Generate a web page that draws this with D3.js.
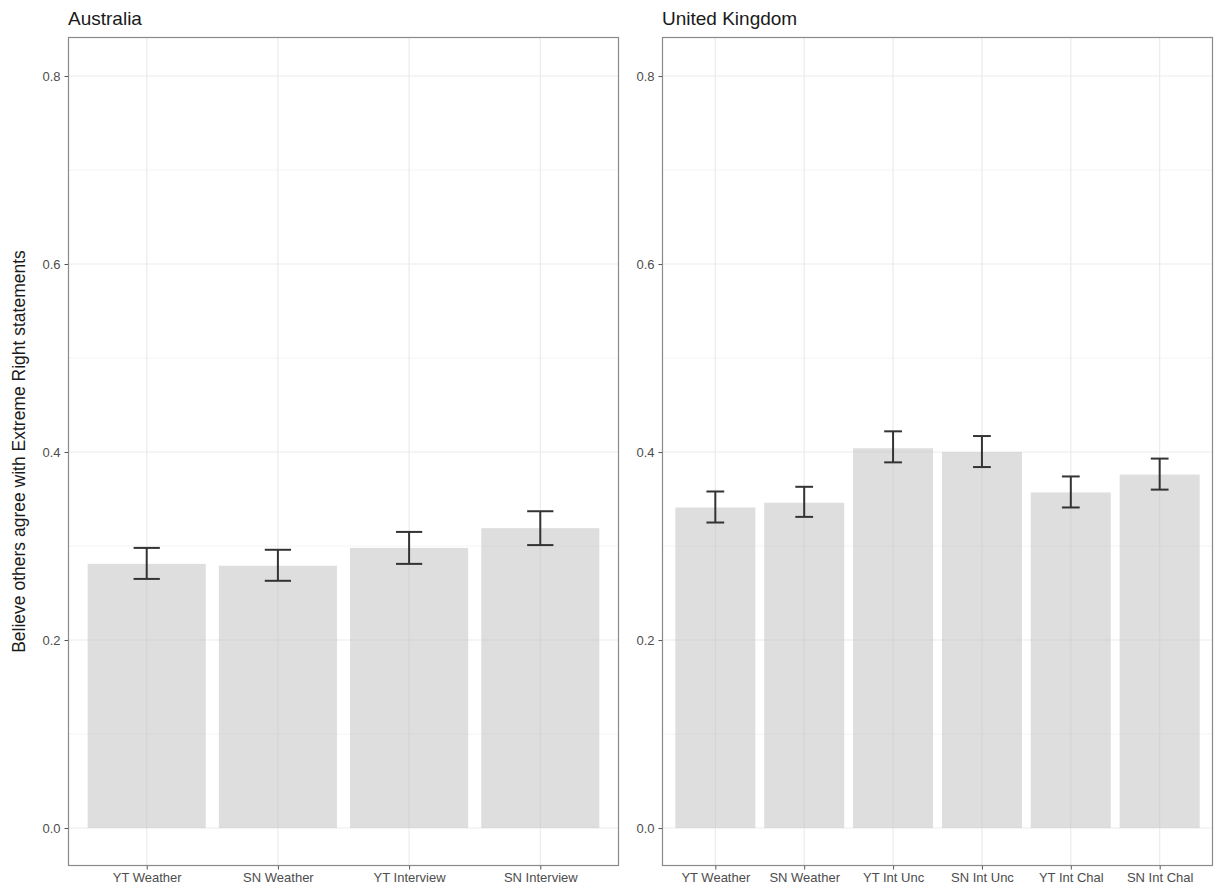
<!DOCTYPE html>
<html>
<head>
<meta charset="utf-8">
<script src="https://cdn.jsdelivr.net/npm/d3@7"></script>
<style>
  html, body { margin: 0; padding: 0; background: #fff; }
  svg { display: block; font-family: "Liberation Sans", Arial, sans-serif; }
</style>
</head>
<body>
<svg id="chart" width="1215" height="890"></svg>
<script>
// Mean belief that others agree with extreme-right statements, by condition
const ausCategories = ["YT Weather", "SN Weather", "YT Interview", "SN Interview"];
const ausMeans = [0.281, 0.279, 0.298, 0.319];
const ausLower = [0.265, 0.263, 0.281, 0.301];
const ausUpper = [0.298, 0.296, 0.315, 0.337];

const ukCategories = ["YT Weather", "SN Weather", "YT Int Unc", "SN Int Unc", "YT Int Chal", "SN Int Chal"];
const ukMeans = [0.341, 0.346, 0.404, 0.400, 0.357, 0.376];
const ukLower = [0.325, 0.331, 0.389, 0.384, 0.341, 0.360];
const ukUpper = [0.358, 0.363, 0.422, 0.417, 0.374, 0.393];

const yTicks = [0, 0.2, 0.4, 0.6, 0.8];
const yMinor = [0.1, 0.3, 0.5, 0.7];
const panelTitles = ["Australia", "United Kingdom"];
const yLabel = "Believe others agree with Extreme Right statements";

const svg = d3.select("#chart");
const panelTop = 37, panelBottom = 866;

// Shared y scale across both facets
const y = d3.scaleLinear().domain([-0.0404, 0.8415]).range([panelBottom, panelTop]);

const panels = [
  { title: panelTitles[0], cats: ausCategories, mean: ausMeans, lo: ausLower, hi: ausUpper, x0: 68, x1: 619 },
  { title: panelTitles[1], cats: ukCategories, mean: ukMeans, lo: ukLower, hi: ukUpper, x0: 662, x1: 1213 }
];

panels.forEach(p => {
  const n = p.cats.length;
  // discrete axis with 0.6 unit padding on each side, bars 0.9 wide
  const pos = d3.scaleLinear().domain([0.4, n + 0.6]).range([p.x0, p.x1]);
  const unit = pos(1) - pos(0);
  const g = svg.append("g");

  g.append("rect").attr("x", p.x0).attr("y", panelTop)
    .attr("width", p.x1 - p.x0).attr("height", panelBottom - panelTop).attr("fill", "#fff");

  // minor gridlines
  g.selectAll(".ymin").data(yMinor).join("line")
    .attr("x1", p.x0).attr("x2", p.x1)
    .attr("y1", d => y(d)).attr("y2", d => y(d))
    .attr("stroke", "#f4f4f4").attr("stroke-width", 1);
  // major gridlines
  g.selectAll(".ymaj").data(yTicks).join("line")
    .attr("x1", p.x0).attr("x2", p.x1)
    .attr("y1", d => y(d)).attr("y2", d => y(d))
    .attr("stroke", "#ebebeb").attr("stroke-width", 1.2);
  g.selectAll(".xmaj").data(p.cats).join("line")
    .attr("x1", (d, i) => pos(i + 1)).attr("x2", (d, i) => pos(i + 1))
    .attr("y1", panelTop).attr("y2", panelBottom)
    .attr("stroke", "#ebebeb").attr("stroke-width", 1.2);

  // bars
  g.selectAll(".bar").data(p.mean).join("rect")
    .attr("x", (d, i) => pos(i + 1) - 0.45 * unit)
    .attr("width", 0.9 * unit)
    .attr("y", d => y(d))
    .attr("height", d => y(0) - y(d))
    .attr("fill", "#bdbdbd").attr("fill-opacity", 0.5);

  // error bars
  const eb = g.selectAll(".eb").data(p.mean).join("g")
    .attr("stroke", "#333").attr("stroke-width", 2).attr("fill", "none");
  eb.append("line")
    .attr("x1", (d, i) => pos(i + 1)).attr("x2", (d, i) => pos(i + 1))
    .attr("y1", (d, i) => y(p.lo[i])).attr("y2", (d, i) => y(p.hi[i]));
  eb.append("line")
    .attr("x1", (d, i) => pos(i + 1) - 0.1 * unit).attr("x2", (d, i) => pos(i + 1) + 0.1 * unit)
    .attr("y1", (d, i) => y(p.hi[i])).attr("y2", (d, i) => y(p.hi[i]));
  eb.append("line")
    .attr("x1", (d, i) => pos(i + 1) - 0.1 * unit).attr("x2", (d, i) => pos(i + 1) + 0.1 * unit)
    .attr("y1", (d, i) => y(p.lo[i])).attr("y2", (d, i) => y(p.lo[i]));

  // panel border
  g.append("rect").attr("x", p.x0 + 0.5).attr("y", panelTop + 0.5)
    .attr("width", p.x1 - p.x0 - 1).attr("height", panelBottom - panelTop - 1)
    .attr("fill", "none").attr("stroke", "#8a8a8a").attr("stroke-width", 1.2);

  // y axis
  const yAxis = d3.axisLeft(y).tickValues(yTicks).tickFormat(d3.format(".1f")).tickSize(3.5).tickPadding(4);
  const ya = g.append("g").attr("transform", `translate(${p.x0},0)`).call(yAxis);
  ya.select(".domain").remove();
  ya.selectAll("line").attr("stroke", "#555");
  ya.selectAll("text").attr("fill", "#4d4d4d").style("font-size", "13px");

  // x axis
  const xAxis = d3.axisBottom(pos).tickValues(d3.range(1, n + 1))
    .tickFormat(d => p.cats[d - 1]).tickSize(3.5).tickPadding(3);
  const xa = g.append("g").attr("transform", `translate(0,${panelBottom})`).call(xAxis);
  xa.select(".domain").remove();
  xa.selectAll("line").attr("stroke", "#555");
  xa.selectAll("text").attr("fill", "#4d4d4d").style("font-size", "13px");

  // facet title
  g.append("text").attr("x", p.x0).attr("y", 25)
    .attr("fill", "#1a1a1a").style("font-size", "19px").text(p.title);
});

svg.append("text")
  .attr("transform", `translate(25,${(panelTop + panelBottom) / 2}) rotate(-90)`)
  .attr("text-anchor", "middle").attr("fill", "#1a1a1a")
  .style("font-size", "17.5px").text(yLabel);
</script>
</body>
</html>
